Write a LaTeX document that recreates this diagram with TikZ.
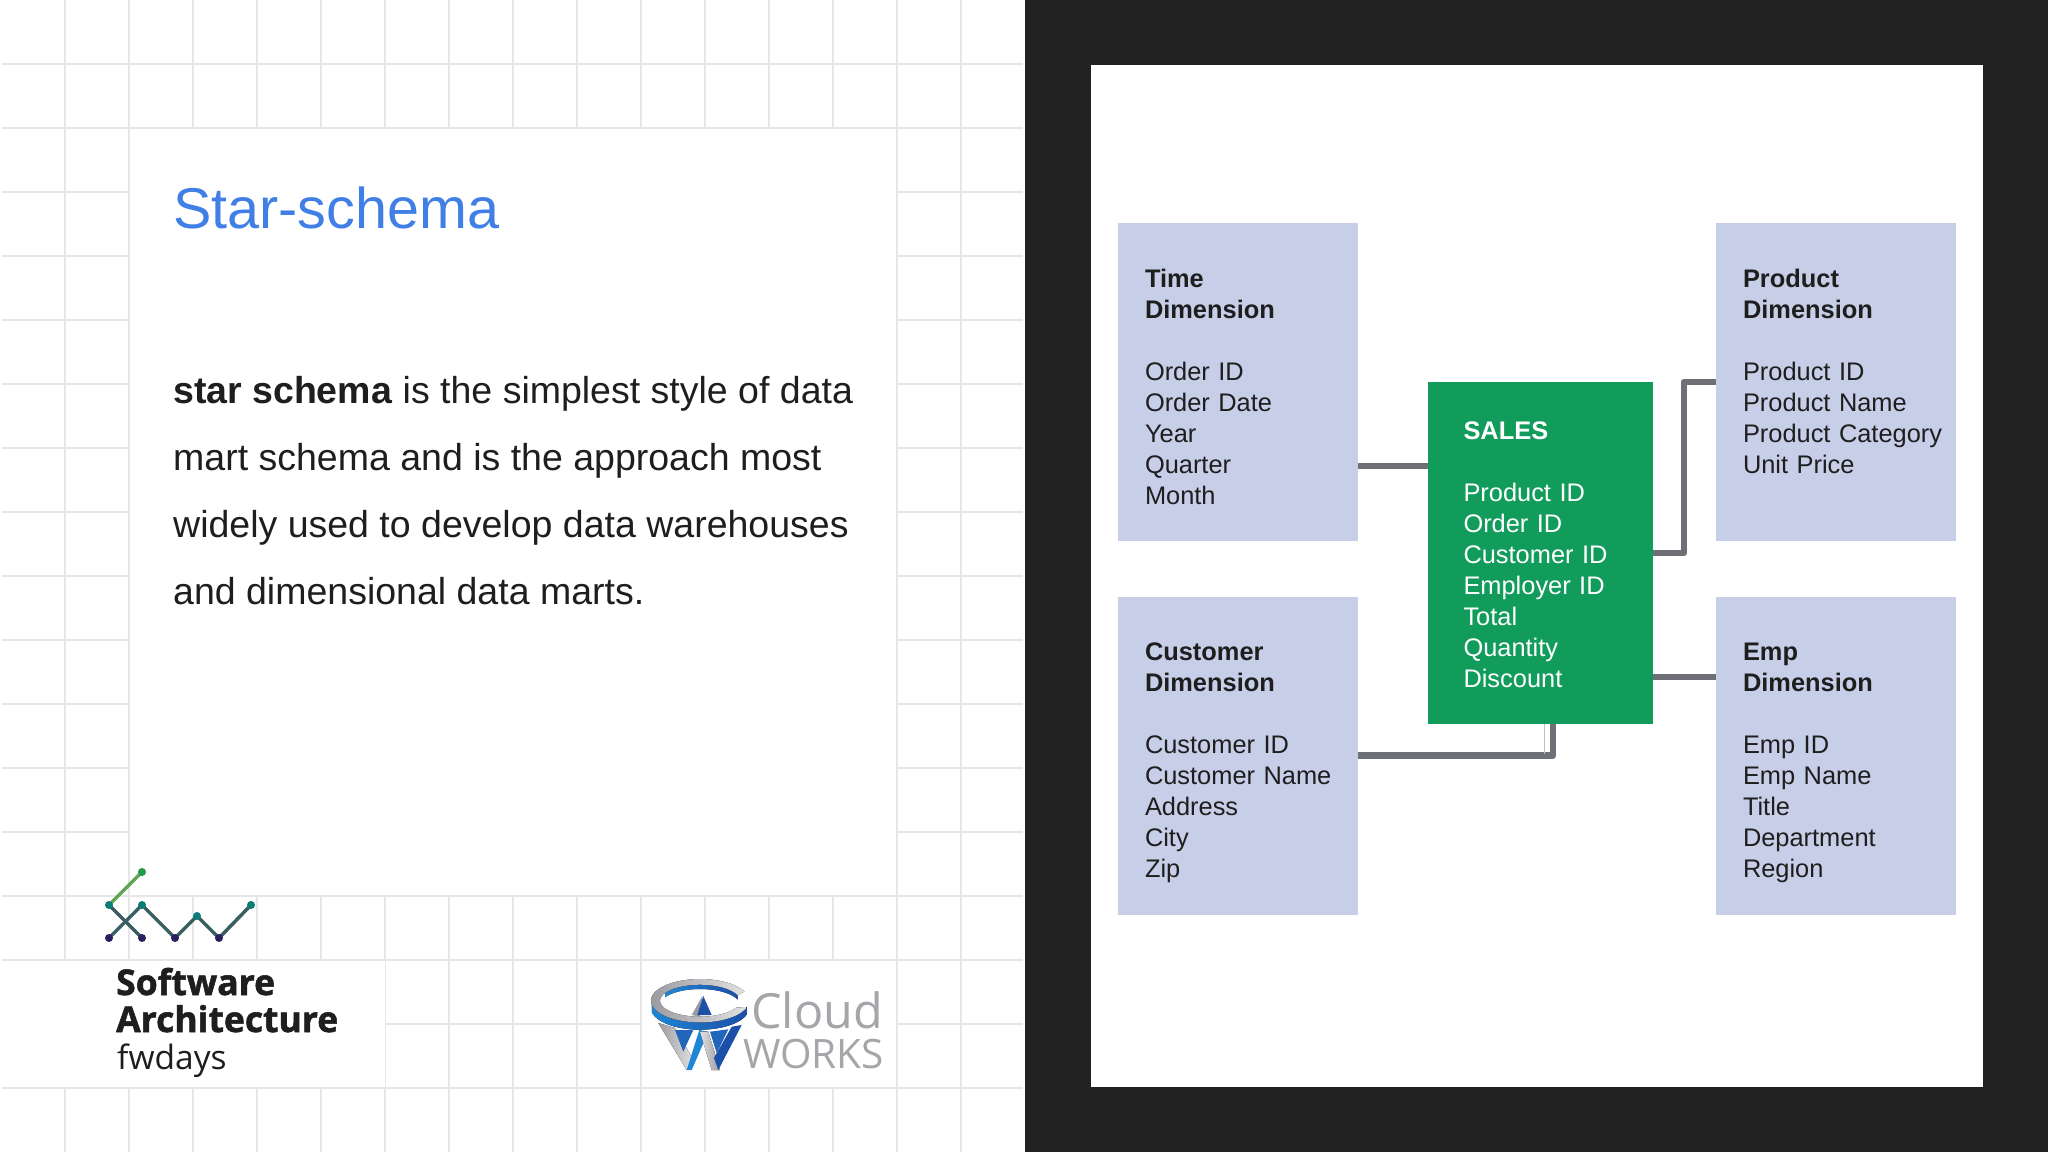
\documentclass[tikz,border=0pt]{standalone}
\usepackage{fontspec}
\setmainfont{Liberation Sans}
\newfontfamily\logofont[BoldFeatures={FakeBold=1.5}]{Open Sans}
\usetikzlibrary{positioning}
\definecolor{slatebg}{HTML}{222222}
\definecolor{dimblue}{HTML}{C7CEE8}
\definecolor{salesgreen}{HTML}{129C5C}
\definecolor{linkgray}{HTML}{6F6F78}
\definecolor{gridgray}{HTML}{E6E6E6}
\definecolor{titleblue}{HTML}{3F7FE6}
\definecolor{inkdark}{HTML}{1E1E1E}
\definecolor{cloudgray}{HTML}{A6A6AA}
\tikzset{
	dimbox/.style={fill=dimblue,inner sep=0pt,text width=186pt,minimum width=240pt,align=left,
		text height=64pt,text depth=254pt,text=inkdark,font=\fontsize{25.4}{31}\selectfont},
	factbox/.style={fill=salesgreen,inner sep=0pt,text width=154pt,minimum width=225pt,align=left,
		text height=57.5pt,text depth=284.5pt,text=white,font=\fontsize{25.4}{31}\selectfont},
	link/.style={draw=linkgray,line width=6.5pt,line join=round},
	gridline/.style={draw=gridgray,line width=1.4pt},
	dot/.style={circle,inner sep=0pt,minimum size=8pt},
}
\begin{document}
\begin{tikzpicture}[x=1pt,y=-1pt,node distance=373.5pt,on grid]
	\useasboundingbox (0,0) rectangle (2048,1152);
	% left slide with its grid
	\fill[white] (0,0) rectangle (1025,1152);
	\foreach \gx in {65,129,...,961}
		\draw[gridline] (\gx,0) -- (\gx,1152);
	\foreach \gy in {64,128,...,1088}
		\draw[gridline] (2,\gy) -- (1023,\gy);
	\fill[white] (130,129) rectangle (896,895);
	\fill[white] (0,961) rectangle (385,1087);
	\fill[white] (642,961) rectangle (896,1087);
	% right slide
	\fill[slatebg] (1025,0) rectangle (2048,1152);
	\fill[white] (1091,65) rectangle (1983,1087);

	\node[anchor=base west,text=titleblue,font=\fontsize{57.5}{60}\selectfont,inner sep=0pt] (title) at (173,228) {Star-schema};
	\node[anchor=base west,text=inkdark,font=\fontsize{37.5}{67}\selectfont,inner sep=0pt,align=left] (body) at (173,604)
		{\textbf{star schema} is the simplest style of data\\mart schema and is the approach most\\widely used to develop data warehouses\\and dimensional data marts.};

	\node[dimbox] (time) at (1238,382) {\textbf{Time}\\\textbf{Dimension}\\[31pt]Order ID\\Order Date\\Year\\Quarter\\Month};
	\node[dimbox] (customer) [below=of time] {\textbf{Customer}\\\textbf{Dimension}\\[31pt]Customer ID\\\mbox{Customer Name}\\Address\\City\\Zip};
	\node[dimbox] (product) [right=598pt of time] {\textbf{Product}\\\textbf{Dimension}\\[31pt]Product ID\\Product Name\\\mbox{Product Category}\\Unit Price};
	\node[dimbox] (emp) [below=of product] {\textbf{Emp}\\\textbf{Dimension}\\[31pt]Emp ID\\Emp Name\\Title\\Department\\Region};
	\node[factbox] (sales) at (1540.5,553) {\textbf{SALES}\\[31pt]Product ID\\Order ID\\Customer ID\\Employer ID\\Total\\Quantity\\Discount};

	\draw[link] ([yshift=-84pt]time.east) -- ([yshift=87pt]sales.west);
	\draw[link] (sales.east) -| ([xshift=-32pt]product.west) -- (product.west);
	\draw[link] ([yshift=-124pt]sales.east) -- ([yshift=78.5pt]emp.west);
	\draw[link] ([xshift=12.5pt]sales.south) |- (customer.east);
	\draw[draw=black!25,line width=0.8pt] ([xshift=3.5pt]sales.south) -- ++(0,30);

	% fwdays logo
	\foreach \ax/\ay/\bx/\by/\segcol in {142/872/109/905/5FA555,109/905/142/938/3A5A62,109/938/142/905/3A5F66,
		142/905/175/938/3A5F60,175/938/197/916/3A5F60,197/916/219/938/3A5F60,219/938/251/905/3A5F60}{
		\definecolor{segtmp}{HTML}{\segcol}
		\draw[segtmp,line width=3.5pt] (\ax,\ay) -- (\bx,\by);
	}
	\definecolor{dotgreen}{HTML}{1F9A48}
	\definecolor{dotteal}{HTML}{0B7D78}
	\definecolor{dotnavy}{HTML}{2A2060}
	\node[dot,fill=dotgreen] (fwa) at (142,872) {};
	\foreach \px/\py [count=\i] in {109/905,142/905,197/916,251/905}
		\node[dot,fill=dotteal] (fwb\i) at (\px,\py) {};
	\foreach \px [count=\i] in {109,142,175,219}
		\node[dot,fill=dotnavy] (fwc\i) at (\px,938) {};
	\node[anchor=base west,inner sep=0pt,text=inkdark,font=\logofont\bfseries\fontsize{35.5}{37}\selectfont] (software) at (116,995) {Software};
	\node[anchor=base west,inner sep=0pt,text=inkdark,font=\logofont\bfseries\fontsize{35.5}{37}\selectfont] (architecture) at (116,1032) {Architecture};
	\node[anchor=base west,inner sep=0pt,text=inkdark,font=\logofont\fontsize{33.5}{37}\selectfont] (fwdays) at (117,1069) {fwdays};

	% cloud works logo
	\definecolor{wblue}{HTML}{1E86D6}
	\definecolor{wdeep}{HTML}{1B4FA8}
	\definecolor{wmid}{HTML}{2166BB}
	\definecolor{silverd}{HTML}{9A9AA0}
	\definecolor{silverl}{HTML}{E2E2E4}
	\fill[left color=silverd,right color=silverl] (658.3,1023) -- (675,1028) -- (693.3,1060) -- (686.7,1070) -- cycle;
	\fill[wmid] (675,1030) -- (693.3,1030) -- (683.3,1051.7) -- cycle;
	\fill[wblue] (686.7,1070) -- (691.7,1070) -- (708.3,1031.7) -- (699.3,1030) -- cycle;
	\fill[left color=silverl,right color=silverd] (700,1031.7) -- (708.3,1031.7) -- (720,1070) -- (711.7,1070) -- cycle;
	\fill[wmid] (710,1031.7) -- (728.3,1029.3) -- (716.7,1053.3) -- cycle;
	\fill[wdeep] (718.3,1070) -- (741.7,1025) -- (731.7,1026.7) -- (714,1058) -- cycle;
	\fill[silverd] (691.7,1015) -- (702.3,996) -- (700,1016.7) -- cycle;
	\fill[wdeep] (703.3,996) -- (711.7,1015) -- (697.3,1015) -- cycle;
	% back wall of the ring
	\fill[left color=wblue,right color=wdeep] plot[domain=-150:-20,samples=30] ({700+40*cos(\x)},{1000.7+16*sin(\x)})
		-- plot[domain=-20:-150,samples=30] ({700+40*cos(\x)},{1005+16*sin(\x)}) -- cycle;
	% front wall of the ring
	\fill[left color=wblue,right color=wdeep] plot[domain=170:17,samples=30] ({700+49*cos(\x)},{1000.7+21.7*sin(\x)})
		-- plot[domain=17:170,samples=30] ({700+49*cos(\x)},{1008+21.7*sin(\x)}) -- cycle;
	% silver top of the ring
	\fill[left color=silverd,right color=silverl] plot[domain=-25:-343,samples=60] ({700+49*cos(\x)},{1000.7+21.7*sin(\x)})
		-- plot[domain=-335:-20,samples=60] ({700+40*cos(\x)},{1000.7+16*sin(\x)}) -- cycle;
	\node[anchor=base west,inner sep=0pt,text=cloudgray,font=\logofont\fontsize{48.5}{48}\selectfont] (cloud) at (751,1028) {Cloud};
	\node[anchor=base west,inner sep=0pt,text=cloudgray,font=\logofont\fontsize{40.5}{42}\selectfont] (works) at (743,1068) {WORKS};
\end{tikzpicture}
\end{document}
